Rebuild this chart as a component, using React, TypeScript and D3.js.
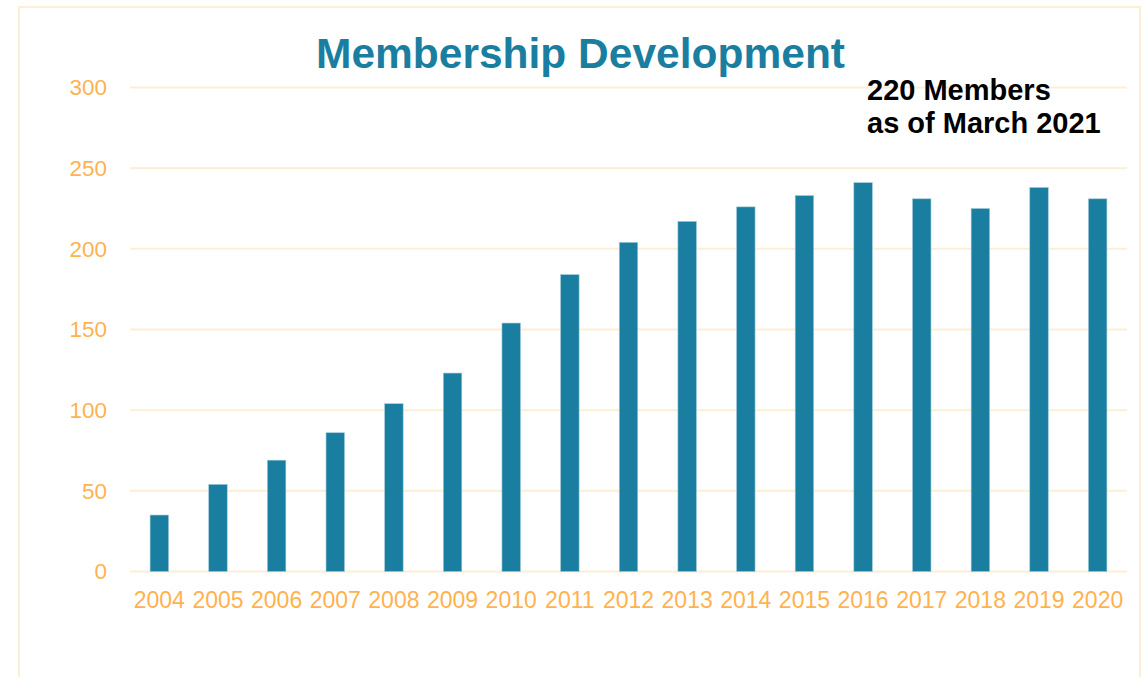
import React from "react";
import * as d3 from "d3";

const years = ["2004","2005","2006","2007","2008","2009","2010","2011","2012","2013","2014","2015","2016","2017","2018","2019","2020"];
const members = [35, 54, 69, 86, 104, 123, 154, 184, 204, 217, 226, 233, 241, 231, 225, 238, 231];
const yTicks = [0, 50, 100, 150, 200, 250, 300];
const title = "Membership Development";
const noteLines = ["220 Members", "as of March 2021"];

const W = 1147, H = 677;
const left = 130, right = 1127, top = 87.5, bottom = 571.5;
const BAR = "#1a7ea0";
const TICK = "#ffb24f";
const GRID = "#fdeed6";
const FONT = "'Liberation Sans', Arial, sans-serif";

export default function App() {
  const x = d3.scaleBand<string>().domain(years).range([left, right]).paddingInner(0.685).paddingOuter(0.3425);
  const y = d3.scaleLinear().domain([0, 300]).range([bottom, top]);
  return (
    <svg width={W} height={H} style={{ position: "absolute", left: 0, top: 0, background: "#fff" }} fontFamily={FONT}>
      <rect x={19} y={7} width={1121} height={700} fill="none" stroke={GRID} strokeWidth={2} />
      {yTicks.map((t) => (
        <g key={t}>
          <line x1={left} x2={right} y1={y(t)} y2={y(t)} stroke={GRID} strokeWidth={2} />
          <text x={107} y={y(t)} dy="0.35em" textAnchor="end" fontSize={22.5} fill={TICK}>{t}</text>
        </g>
      ))}
      {years.map((yr, i) => (
        <rect key={yr} x={x(yr)} y={y(members[i])} width={x.bandwidth()} height={y(0) - y(members[i])} fill={BAR} stroke="#9cc8d8" strokeWidth={0.6} />
      ))}
      {years.map((yr) => (
        <text key={yr} x={(x(yr) as number) + x.bandwidth() / 2} y={608} textAnchor="middle" fontSize={23} fill={TICK}>{yr}</text>
      ))}
      <text x={580.5} y={68} textAnchor="middle" fontSize={42.5} fontWeight="bold" fill={BAR}>{title}</text>
      {noteLines.map((l, i) => (
        <text key={l} x={867} y={100 + i * 33} fontSize={29} fontWeight="bold" fill="#000">{l}</text>
      ))}
    </svg>
  );
}
